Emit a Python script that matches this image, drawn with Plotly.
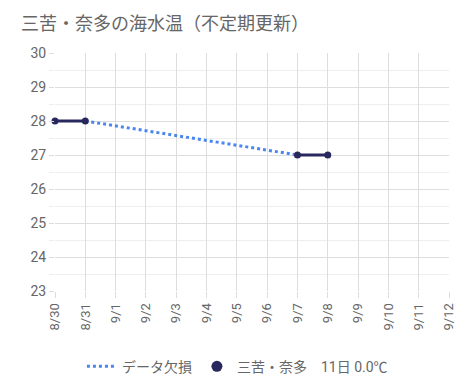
import plotly.graph_objects as go

dates = ["8/30", "8/31", "9/1", "9/2", "9/3", "9/4", "9/5", "9/6",
         "9/7", "9/8", "9/9", "9/10", "9/11", "9/12"]
temps = [28, 28, None, None, None, None, None, None, 27, 27, None, None, None, None]
gap = [None, 28, None, None, None, None, None, None, 27, None, None, None, None, None]
series_name = "三苦・奈多　11日 0.0℃"
gap_name = "データ欠損"
title = "三苦・奈多の海水温（不定期更新）"

navy = "#28285e"
blue = "#4a86f0"
grid = "#dddddd"
txt = "#666666"
font = "Roboto, 'Noto Sans CJK JP', sans-serif"

fig = go.Figure()
fig.add_trace(go.Scatter(
    x=dates, y=gap, mode="lines", connectgaps=True, name=gap_name,
    line=dict(color=blue, width=3, dash="dot"), hoverinfo="skip"))
fig.add_trace(go.Scatter(
    x=dates, y=temps, mode="lines+markers", connectgaps=False, showlegend=False,
    name=series_name, line=dict(color=navy, width=3), cliponaxis=False,
    marker=dict(color=navy, size=7)))
fig.add_trace(go.Scatter(
    x=[None], y=[None], mode="markers", name=series_name,
    marker=dict(color=navy, size=11)))

fig.update_layout(
    width=475, height=387,
    margin=dict(l=47, r=34, t=45, b=100),
    paper_bgcolor="white", plot_bgcolor="white",
    font=dict(family=font, color=txt, size=12),
    title=dict(text=title, x=13/475, xref="container", xanchor="left",
               y=1-16/387, yref="container", yanchor="middle",
               font=dict(size=18, color=txt, family=font)),
    showlegend=True,
    legend=dict(orientation="h", x=0.463, xanchor="center", y=-0.318, yanchor="middle",
                yref="paper", font=dict(size=14, color=txt), itemwidth=30,
                traceorder="normal"),
    xaxis=dict(type="category", categoryorder="array", categoryarray=dates,
               range=[0, len(dates) - 1], showgrid=True, gridcolor=grid, gridwidth=1,
               ticks="outside", ticklen=6, tickcolor=grid, tickangle=-90,
               tickfont=dict(size=13, color=txt), zeroline=False, showline=False,
               fixedrange=True),
    yaxis=dict(range=[23, 30], dtick=1, tick0=23, showgrid=True, gridcolor=grid,
               gridwidth=1, ticks="outside", ticklen=5, tickcolor=grid,
               tickfont=dict(size=14, color=txt), zeroline=False, showline=False,
               minor=dict(dtick=0.5, tick0=23, showgrid=True, gridcolor="#eeeeee",
                          ticks="outside", ticklen=5, tickcolor="#eeeeee")),
)

fig.write_html("out.html")
